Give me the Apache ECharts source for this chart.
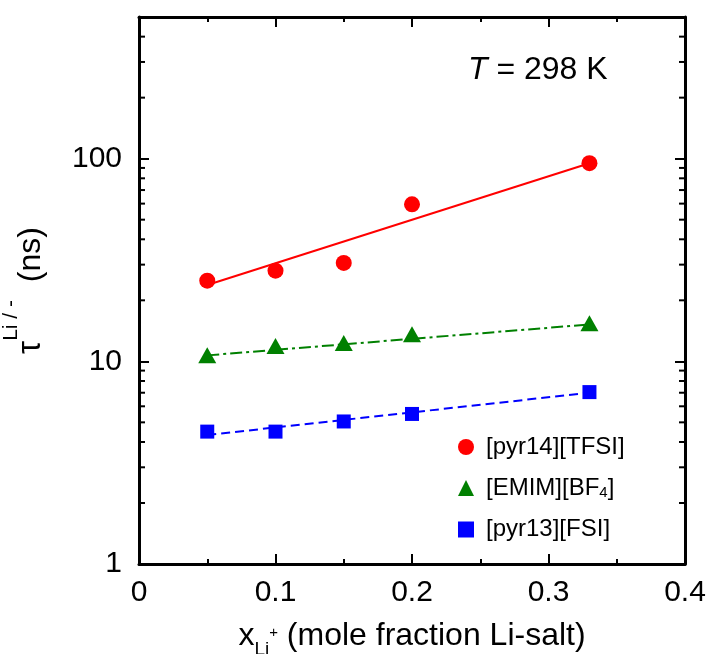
<!DOCTYPE html>
<html>
<head>
<meta charset="utf-8">
<script src="https://cdn.jsdelivr.net/npm/echarts@6/dist/echarts.min.js"></script>
<style>
  html, body { margin: 0; padding: 0; background: #fff; }
  #chart { width: 711px; height: 654px; }
</style>
</head>
<body>
<div id="chart"></div>
<script>
// Li-salt mole fraction
const xValues = [0.05, 0.1, 0.15, 0.2, 0.33];

// relaxation times (ns)
const pyr14TFSI = [25, 28, 30.6, 59.5, 95];
const emimBF4 = [10.7, 11.9, 12.3, 13.6, 15.4];
const pyr13FSI = [4.5, 4.5, 5.05, 5.5, 7.05];

// exponential fit lines (end points)
const fitX = [0.05, 0.33];
const fitPyr14 = [23.8, 95];
const fitEmim = [10.7, 15.2];
const fitPyr13 = [4.33, 7.0];

// axis ticks
const xTicks = [0, 0.1, 0.2, 0.3, 0.4];
const yTickLabels = [1, 10, 100];
const yMinorTicks = [2, 3, 4, 5, 6, 7, 8, 9, 20, 30, 40, 50, 60, 70, 80, 90, 200, 300, 400];

const seriesNames = ['[pyr14][TFSI]', '[EMIM][BF4]', '[pyr13][FSI]'];

const FONT = '"Liberation Sans", Arial, Helvetica, sans-serif';
const pairs = (xs, ys) => xs.map((x, i) => [x, ys[i]]);

const chart = echarts.init(document.getElementById('chart'), null, { renderer: 'canvas' });

const axisLineStyle = { color: '#000', width: 3 };
const tickStyle = { color: '#000', width: 2 };

chart.setOption({
  animation: false,
  backgroundColor: '#fff',
  grid: { left: 139, right: 26, top: 17, bottom: 90, containLabel: false, outerBoundsMode: 'none' },
  xAxis: [{
    type: 'value', min: 0, max: 0.4, interval: 0.1,
    axisLine: { show: true, onZero: false, lineStyle: axisLineStyle },
    axisTick: { show: true, inside: true, length: 10, lineStyle: tickStyle },
    minorTick: { show: true, splitNumber: 2, length: 5, lineStyle: tickStyle },
    splitLine: { show: false },
    axisLabel: {
      fontFamily: FONT, fontSize: 30, color: '#000', margin: 14,
      formatter: v => {
        const t = xTicks.find(k => Math.abs(k - v) < 1e-9);
        return t === undefined ? '' : (t === 0 ? '0' : t.toFixed(1));
      }
    },
    name: 'x{sub|Li}{subsup|+} (mole fraction Li-salt)',
    nameLocation: 'middle', nameGap: 42,
    nameTextStyle: {
      fontFamily: FONT, fontSize: 32, color: '#000', lineHeight: 46,
      rich: {
        sub: { fontFamily: FONT, fontSize: 19, color: '#000', verticalAlign: 'bottom', lineHeight: 18 },
        subsup: { fontFamily: FONT, fontSize: 15, color: '#000', padding: [0, 0, 6, 0] }
      }
    }
  }, {
    type: 'value', min: 0, max: 0.4, interval: 0.1, position: 'top',
    axisLine: { show: true, onZero: false, lineStyle: axisLineStyle },
    axisTick: { show: true, inside: true, length: 10, lineStyle: tickStyle },
    minorTick: { show: true, splitNumber: 2, length: 5, lineStyle: tickStyle },
    splitLine: { show: false },
    axisLabel: { show: false }
  }],
  yAxis: [{
    type: 'log', logBase: 10, min: 1, max: 500,
    axisLine: { show: true, onZero: false, lineStyle: axisLineStyle },
    axisTick: { show: true, inside: true, length: 10, lineStyle: tickStyle },
    minorTick: { show: false },
    splitLine: { show: false },
    axisLabel: {
      fontFamily: FONT, fontSize: 30, color: '#000', margin: 17,
      showMaxLabel: false,
      formatter: v => (yTickLabels.some(k => Math.abs(k - v) < 1e-6) ? String(Math.round(v)) : '')
    },
    name: '{tau|τ}{sup|Li / -}  (ns)',
    nameLocation: 'middle', nameRotate: 90, nameGap: 65,
    nameTextStyle: {
      fontFamily: FONT, fontSize: 32, color: '#000', lineHeight: 60,
      rich: {
        tau: { fontFamily: FONT, fontSize: 33, color: '#000' },
        sup: { fontFamily: FONT, fontSize: 21, color: '#000', verticalAlign: 'top', lineHeight: 20 }
      }
    }
  }, {
    type: 'log', logBase: 10, min: 1, max: 500, position: 'right',
    axisLine: { show: true, onZero: false, lineStyle: axisLineStyle },
    axisTick: { show: true, inside: true, length: 10, lineStyle: tickStyle },
    minorTick: { show: false },
    splitLine: { show: false },
    axisLabel: { show: false }
  }],
  legend: {
    data: seriesNames,
    orient: 'vertical',
    left: 453, top: 430,
    itemWidth: 16, itemHeight: 16, itemGap: 17,
    textStyle: {
      fontFamily: FONT, fontSize: 24, color: '#000', lineHeight: 24, padding: [0, 0, 0, 7],
      rich: {
        sub: { fontFamily: FONT, fontSize: 15, color: '#000', padding: [10, 0, 0, 0] }
      }
    },
    formatter: name => name === '[EMIM][BF4]' ? '[EMIM][BF{sub|4}]' : name
  },
  graphic: [{
    type: 'text', left: 468, top: 54,
    style: {
      text: '{i|T} = 298 K',
      font: '32px ' + FONT, fill: '#000',
      rich: { i: { fontFamily: FONT, fontSize: 32, fontStyle: 'italic', fill: '#000' } }
    }
  }],
  series: [
    // fit lines
    { type: 'line', name: 'fit pyr14', data: pairs(fitX, fitPyr14), symbol: 'none', silent: true,
      lineStyle: { color: '#ff0000', width: 2 }, z: 2 },
    { type: 'line', name: 'fit emim', data: pairs(fitX, fitEmim), symbol: 'none', silent: true,
      lineStyle: { color: '#008000', width: 2, type: [12, 4, 3, 4] }, z: 2 },
    { type: 'line', name: 'fit pyr13', data: pairs(fitX, fitPyr13), symbol: 'none', silent: true,
      lineStyle: { color: '#0000ff', width: 2, type: [9, 5] }, z: 2 },
    // measured points
    { type: 'scatter', name: seriesNames[0], data: pairs(xValues, pyr14TFSI), symbol: 'circle', symbolSize: 16,
      itemStyle: { color: '#ff0000', opacity: 1 }, z: 3 },
    { type: 'scatter', name: seriesNames[1], data: pairs(xValues, emimBF4), symbol: 'triangle', symbolSize: [18, 16],
      itemStyle: { color: '#008000', opacity: 1 }, z: 3 },
    { type: 'scatter', name: seriesNames[2], data: pairs(xValues, pyr13FSI), symbol: 'rect', symbolSize: 14,
      itemStyle: { color: '#0000ff', opacity: 1 }, z: 3 },
    // minor ticks of the log axis, left and right frame edges
    {
      type: 'custom', name: 'minor ticks', silent: true, z: 5,
      data: yMinorTicks.map(v => [0, v]),
      encode: { x: 0, y: 1 },
      renderItem: (params, api) => {
        const v = api.value(1);
        const l = api.coord([0, v]);
        const r = api.coord([0.4, v]);
        const st = { stroke: '#000', lineWidth: 2 };
        return {
          type: 'group',
          children: [
            { type: 'line', shape: { x1: l[0], y1: l[1], x2: l[0] + 6, y2: l[1] }, style: st },
            { type: 'line', shape: { x1: r[0], y1: r[1], x2: r[0] - 6, y2: r[1] }, style: st }
          ]
        };
      },
      clip: false
    }
  ]
});
</script>
</body>
</html>
